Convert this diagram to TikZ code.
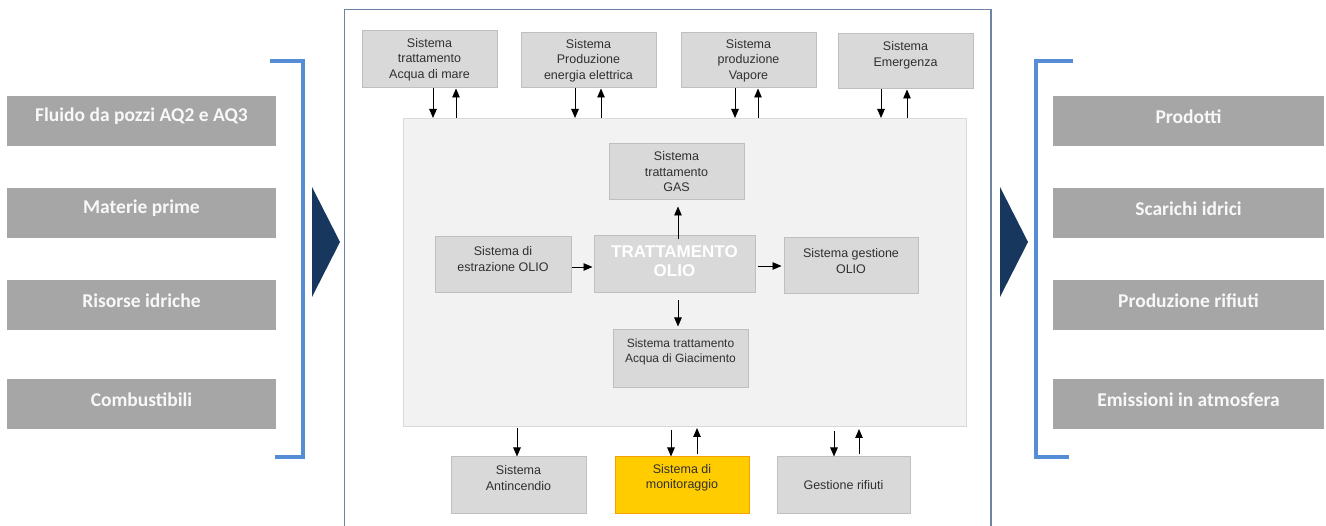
\documentclass[tikz,border=0pt]{standalone}
\usepackage{fontspec}
\setmainfont{Liberation Sans}
\newfontfamily\calfont{Carlito}
\usetikzlibrary{arrows.meta}
\definecolor{boxfill}{HTML}{D9D9D9}
\definecolor{boxline}{HTML}{BFBFBF}
\definecolor{sidefill}{HTML}{A6A6A6}
\definecolor{sidetext}{HTML}{F8F8F8}
\definecolor{bracket}{HTML}{558ED5}
\definecolor{navy}{HTML}{17375E}
\definecolor{frameline}{HTML}{6F84A4}
\definecolor{areafill}{HTML}{F2F2F2}
\definecolor{arealine}{HTML}{D9D9D9}
\definecolor{gold}{HTML}{FFCC00}
\definecolor{goldline}{HTML}{F5A000}
\definecolor{txt}{HTML}{303030}
\tikzset{
  sysbox/.style={draw=boxline, line width=1pt, fill=boxfill, inner sep=0pt},
  systext/.style={align=center, text=txt, font=\fontsize{12.5}{15.5}\selectfont, inner sep=0pt},
  sidetxt/.style={text=sidetext, font=\calfont\bfseries\fontsize{19.5}{22}\selectfont, inner sep=0pt},
  flow/.style={line width=0.9pt, -{Triangle[width=7.5pt,length=9pt]}},
  brk/.style={draw=bracket, line width=3.5pt},
}
\begin{document}
\begin{tikzpicture}[x=1pt,y=-1pt]
\useasboundingbox (0,0) rectangle (1326,526);

% ---------------- inputs ----------------
\foreach \t/\y [count=\i] in {Fluido da pozzi AQ2 e AQ3/96, Materie prime/188, Risorse idriche/280, Combustibili/379}{
  \node[fill=sidefill, minimum width=269pt, minimum height=50pt, inner sep=0pt] (in\i) at (141.5,\y+25) {};
  \node[sidetxt] at ([yshift=4.5pt]in\i.center) {\t};
}
\draw[brk] (270,61) -- (303,61) -- (303,457) -- (275,457);
\fill[navy] (312,187) -- (340,242) -- (312,297) -- cycle;

% ---------------- outputs ----------------
\foreach \t/\y [count=\i] in {Prodotti/96, Scarichi idrici/188, Produzione rifiuti/280, Emissioni in atmosfera/379}{
  \node[fill=sidefill, minimum width=271pt, minimum height=50pt, inner sep=0pt] (out\i) at (1188.5,\y+25) {};
  \node[sidetxt] at ([yshift=4.5pt]out\i.center) {\t};
}
\draw[brk] (1073,61) -- (1036,61) -- (1036,457) -- (1069,457);
\fill[navy] (1000,187) -- (1028,242) -- (1000,297) -- cycle;

% ---------------- plant frame ----------------
\draw[frameline, line width=1.2pt] (344.5,530) -- (344.5,9.5) -- (991,9.5) -- (991,530);

% process area
\draw[arealine, fill=areafill, line width=1pt] (403,119) rectangle (966,427);

% utility systems (top)
\node[sysbox, minimum width=135pt, minimum height=57pt] (acq) at (429.5,59.5) {};
\node[systext] at (acq.center) {Sistema\\trattamento\\Acqua di mare};
\node[sysbox, minimum width=135pt, minimum height=55pt] (ene) at (588.5,60.5) {};
\node[systext] at (ene.center) {Sistema\\Produzione\\energia elettrica};
\node[sysbox, minimum width=135pt, minimum height=55pt] (vap) at (748.5,60.5) {};
\node[systext] at (vap.center) {Sistema\\produzione\\Vapore};
\node[sysbox, minimum width=135pt, minimum height=55pt] (eme) at (905.5,61.5) {};
\node[systext] at ([yshift=6pt]eme.center) {Sistema\\Emergenza};

% connectors between utilities and process area
\foreach \n/\a/\b in {acq/433/456, ene/575/601, vap/735/758, eme/881/907}{
  \coordinate (\n d) at (\a,118);
  \coordinate (\n u) at (\b,118);
  \draw[flow] (\n.south -| \n d) -- (\n d);
  \draw[flow] (\n u) -- (\n.south -| \n u);
}

% core process
\node[sysbox, minimum width=161pt, minimum height=57pt] (core) at (674.5,264.5) {};
\node[align=center, text=white, font=\bfseries\fontsize{17}{19}\selectfont, inner sep=0pt] at ([yshift=3pt]core.center) {TRATTAMENTO\\OLIO};

\node[sysbox, minimum width=135pt, minimum height=56pt] (gas) at (676.5,172) {};
\node[systext] at (gas.center) {Sistema\\trattamento\\GAS};

\node[sysbox, minimum width=136pt, minimum height=56pt] (est) at (503,265) {};
\node[systext] at ([yshift=6pt]est.center) {Sistema di\\estrazione OLIO};

\node[sysbox, minimum width=134pt, minimum height=56pt] (ges) at (851,266) {};
\node[systext] at ([yshift=5pt]ges.center) {Sistema gestione\\OLIO};

\node[sysbox, minimum width=135pt, minimum height=58pt] (gia) at (680.5,359) {};
\node[systext, font=\fontsize{12}{15}\selectfont] at ([yshift=7.5pt]gia.center) {Sistema trattamento\\Acqua di Giacimento};

\coordinate (gasA) at (678,0);
\draw[flow] ([yshift=-4pt]core.north -| gasA) -- ([yshift=-6pt]gas.south -| gasA);
\coordinate (estA) at (0,267);
\draw[flow] (est.east |- estA) -- ([xshift=-1pt]core.west |- estA);
\coordinate (gesA) at (0,266);
\draw[flow] ([xshift=2pt]core.east |- gesA) -- ([xshift=-2pt]ges.west |- gesA);
\coordinate (giaA) at (678,0);
\draw[flow] ([yshift=-7pt]core.south -| giaA) -- ([yshift=3pt]gia.north -| giaA);

% support systems (bottom)
\node[sysbox, minimum width=135pt, minimum height=56pt] (fir) at (518.5,485) {};
\node[systext] at ([yshift=7pt]fir.center) {Sistema\\Antincendio};
\node[draw=goldline, fill=gold, line width=1pt, minimum width=134pt, minimum height=56pt, inner sep=0pt] (mon) at (682,485) {};
\node[systext] at ([yshift=7pt]mon.center) {Sistema di\\monitoraggio};
\node[sysbox, minimum width=133pt, minimum height=56pt] (rif) at (843.5,485) {};
\node[systext] at (rif.center) {Gestione rifiuti};

\coordinate (firD) at (517,428);
\draw[flow] (firD) -- (fir.north -| firD);
\coordinate (monD) at (671,430);
\coordinate (monU) at (697,428);
\draw[flow] (monD) -- (mon.north -| monD);
\draw[flow] ([yshift=2pt]mon.north -| monU) -- (monU);
\coordinate (rifD) at (834,431);
\coordinate (rifU) at (859,429);
\draw[flow] (rifD) -- (rif.north -| rifD);
\draw[flow] ([yshift=2pt]rif.north -| rifU) -- (rifU);
\end{tikzpicture}
\end{document}
